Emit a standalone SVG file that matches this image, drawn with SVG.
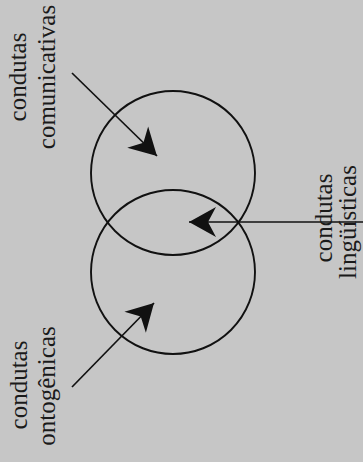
<svg xmlns="http://www.w3.org/2000/svg" width="363" height="462" viewBox="0 0 363 462">
  <defs>
    <style>
      .bg { fill: #c6c6c6; }
      .circle { fill: none; stroke: #111; stroke-width: 1.9; }
      .conn { fill: none; stroke: #111; stroke-width: 1.7; }
      .lbl { font-family: "Liberation Serif", "DejaVu Serif", serif; font-size: 25px; fill: #1a1a1a; text-anchor: middle; }
    </style>
    <marker id="head" markerUnits="userSpaceOnUse" markerWidth="40" markerHeight="40" viewBox="-30 -20 40 40" refX="0" refY="0" orient="auto">
      <path d="M0,0 L-27,-15 L-19,0 L-27,15 Z" fill="#111"/>
    </marker>
  </defs>
  <rect class="bg" x="0" y="0" width="363" height="462"/>

  <g id="circle-comunicativas">
    <circle class="circle" cx="173" cy="173" r="82"/>
  </g>
  <g id="circle-ontogenicas">
    <circle class="circle" cx="173" cy="272" r="82"/>
  </g>

  <g id="connectors">
    <line class="conn" x1="72" y1="73" x2="157" y2="156" marker-end="url(#head)"/>
    <line class="conn" x1="363" y1="222" x2="189" y2="222" marker-end="url(#head)"/>
    <line class="conn" x1="72" y1="387" x2="154" y2="303" marker-end="url(#head)"/>
  </g>

  <g id="label-comunicativas" transform="rotate(-90)">
    <text class="lbl" x="-77" y="26">condutas</text>
    <text class="lbl" x="-77" y="55">comunicativas</text>
  </g>
  <g id="label-ontogenicas" transform="rotate(-90)">
    <text class="lbl" x="-385" y="27">condutas</text>
    <text class="lbl" x="-386" y="55">ontogênicas</text>
  </g>
  <g id="label-linguisticas" transform="rotate(-90)">
    <text class="lbl" x="-218" y="332">condutas</text>
    <text class="lbl" x="-222" y="356">lingüísticas</text>
  </g>
</svg>
